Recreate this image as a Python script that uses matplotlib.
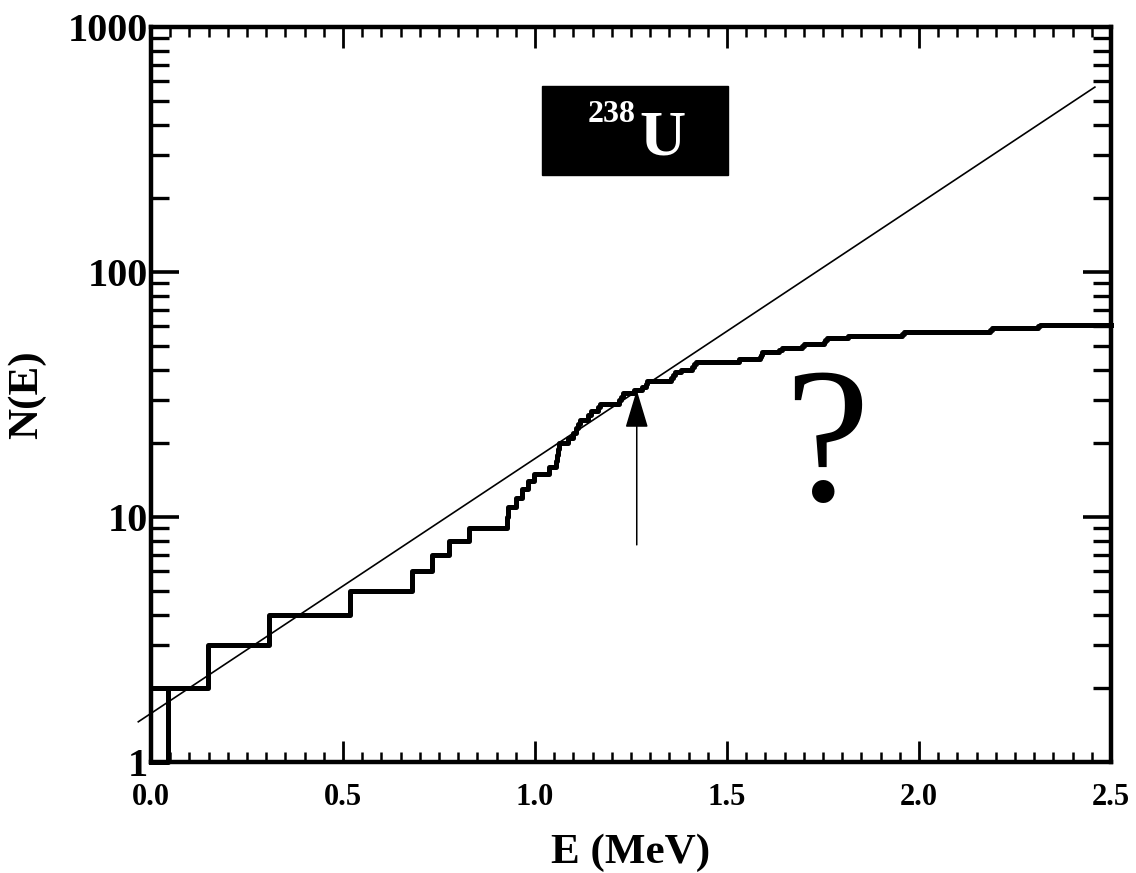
import matplotlib.pyplot as plt
import matplotlib.ticker as mticker
from matplotlib.patches import Rectangle
import numpy as np

levels = [0.000, 0.045, 0.148, 0.307, 0.518, 0.680, 0.732, 0.776, 0.827, 0.927,
          0.931, 0.950, 0.966, 0.983, 0.997, 1.037, 1.055, 1.058, 1.060, 1.062,
          1.085, 1.100, 1.106, 1.112, 1.118, 1.138, 1.145, 1.165, 1.170, 1.220,
          1.224, 1.228, 1.257, 1.278, 1.288, 1.292, 1.355, 1.360, 1.365, 1.380,
          1.410, 1.415, 1.420, 1.530, 1.585, 1.588, 1.592, 1.635, 1.642, 1.695,
          1.700, 1.752, 1.756, 1.760, 1.815, 1.955, 1.962, 2.185, 2.190, 2.310,
          2.316]
e_max = 2.5

# constant-temperature fit line: N = n0 * 10**(slope * E)
fit_n0 = 1.58
fit_slope = 1.04
fit_range = [-0.033, 2.458]

arrow_e = 1.265
arrow_from = 7.7
arrow_to = 33.0

xticks = [0.0, 0.5, 1.0, 1.5, 2.0, 2.5]
yticks = [1, 10, 100, 1000]

plt.rcParams["font.family"] = ["Liberation Serif", "DejaVu Serif"]
plt.rcParams["font.weight"] = "bold"

fig = plt.figure(figsize=(11.36, 8.73), dpi=100)
ax = fig.add_axes([0.1329, 0.1271, 0.8451, 0.8419])

step_x = levels + [e_max]
step_y = list(range(1, len(levels) + 1)) + [len(levels)]
ax.step(step_x, step_y, where="post", color="black", lw=3.6, clip_on=False)
# the first level is also drawn as a short bar at N=2 from E=0
ax.plot([levels[0], levels[1]], [2, 2], color="black", lw=3.6)

fe = np.array(fit_range)
ax.plot(fe, fit_n0 * 10 ** (fit_slope * fe), color="black", lw=1.2, clip_on=False)

ax.annotate("", xy=(arrow_e, arrow_to), xytext=(arrow_e, arrow_from),
            arrowprops=dict(arrowstyle="-|>,head_length=1.2,head_width=0.36",
                            mutation_scale=20, color="black", lw=1.1,
                            shrinkA=0, shrinkB=0))

ax.set_yscale("log")
ax.set_xlim(0, e_max)
ax.set_ylim(1, 1000)

ax.set_xticks(xticks)
ax.xaxis.set_major_formatter(mticker.FormatStrFormatter("%.1f"))
ax.xaxis.set_minor_locator(mticker.MultipleLocator(0.05))
ax.set_yticks(yticks)
ax.set_yticklabels([str(v) for v in yticks])
ax.yaxis.set_minor_locator(mticker.LogLocator(base=10, subs=np.arange(2, 10)))
ax.yaxis.set_minor_formatter(mticker.NullFormatter())

ax.tick_params(axis="x", which="major", direction="in", top=True, length=15,
               width=2.0, labelsize=22, pad=15)
ax.tick_params(axis="x", which="minor", direction="in", top=True, length=7.5,
               width=1.8)
ax.tick_params(axis="y", which="major", direction="in", right=True, length=20,
               width=2.6, labelsize=29, pad=2)
ax.tick_params(axis="y", which="minor", direction="in", right=True, length=13,
               width=2.4)
for lab in ax.get_xticklabels() + ax.get_yticklabels():
    lab.set_fontweight("bold")
for sp in ax.spines.values():
    sp.set_linewidth(3.2)

ax.set_xlabel("E (MeV)", fontsize=31, fontweight="bold")
ax.xaxis.set_label_coords(0.5, -0.097)
ax.set_ylabel("N(E)", fontsize=31, fontweight="bold")
ax.yaxis.set_label_coords(-0.109, 0.5)

ax.add_patch(Rectangle((0.407, 0.799), 0.194, 0.121, transform=ax.transAxes,
                       facecolor="black", edgecolor="black"))
ax.text(0.505, 0.871, "238", transform=ax.transAxes, color="white",
        fontsize=23, fontweight="bold", ha="right", va="baseline")
ax.text(0.509, 0.826, "U", transform=ax.transAxes, color="white",
        fontsize=46, fontweight="bold", ha="left", va="baseline")

ax.text(0.704, 0.3565, "?", transform=ax.transAxes, color="black",
        fontsize=138, fontweight="normal", ha="center", va="baseline")

fig.savefig("out.png", dpi=100)
